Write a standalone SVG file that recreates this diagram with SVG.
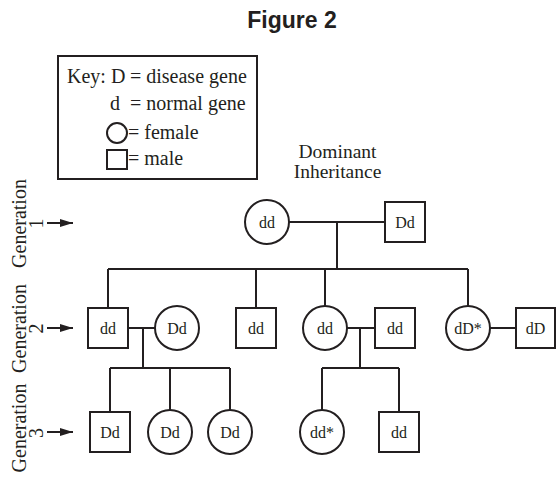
<svg xmlns="http://www.w3.org/2000/svg" width="557" height="477" viewBox="0 0 557 477">
<defs>
<style>
.ln{stroke:#231f20;stroke-width:2;fill:none}
.nd{stroke:#231f20;stroke-width:2;fill:#fff}
.t{font-family:"Liberation Serif","Times New Roman",serif;fill:#231f20}
.lb{font-size:16px;text-anchor:middle}
.key{font-size:20px}
.gen{font-size:20px;text-anchor:middle}
</style>
<marker id="ah" markerWidth="14" markerHeight="10" refX="13" refY="5" orient="auto" markerUnits="userSpaceOnUse">
<path d="M0,1 L13,5 L0,9 Z" fill="#231f20"/>
</marker>
</defs>
<rect width="557" height="477" fill="#fff"/>
<text x="292" y="28" font-family="'Liberation Sans',Arial,sans-serif" font-weight="bold" font-size="23" text-anchor="middle" fill="#231f20">Figure 2</text>

<g id="key">
<rect x="58" y="56" width="199" height="123" class="ln"/>
<text class="t key" x="67" y="83">Key: D</text>
<text class="t key" x="130" y="83">= disease gene</text>
<text class="t key" x="110" y="110">d</text>
<text class="t key" x="130" y="110">= normal gene</text>
<circle cx="117" cy="133" r="10" class="ln"/>
<text class="t key" x="128" y="139">= female</text>
<rect x="107" y="150" width="20" height="19" class="ln"/>
<text class="t key" x="128" y="165">= male</text>
</g>

<text class="t" x="337.5" y="158" font-size="19.5" text-anchor="middle">Dominant</text>
<text class="t" x="337.5" y="178" font-size="19.5" text-anchor="middle">Inheritance</text>

<g id="gen-labels">
<text class="t gen" transform="translate(26,223.5) rotate(-90)">Generation</text>
<text class="t gen" transform="translate(43,223.5) rotate(-90)">1</text>
<line x1="47" y1="223" x2="73" y2="223" class="ln" marker-end="url(#ah)"/>
<text class="t gen" transform="translate(26,328.5) rotate(-90)">Generation</text>
<text class="t gen" transform="translate(43,328.5) rotate(-90)">2</text>
<line x1="47" y1="328" x2="73" y2="328" class="ln" marker-end="url(#ah)"/>
<text class="t gen" transform="translate(26,428) rotate(-90)">Generation</text>
<text class="t gen" transform="translate(43,433) rotate(-90)">3</text>
<line x1="47" y1="432" x2="73" y2="432" class="ln" marker-end="url(#ah)"/>
</g>

<g id="connectors">
<path class="ln" d="M289,222 H385 M337,222 V269 M108,269 H468 M108,269 V308 M256,269 V308 M325,269 V306 M468,269 V306"/>
<path class="ln" d="M128,328 H155 M143,328 V368 M110,368 H230 M110,368 V412 M170,368 V410 M230,368 V410"/>
<path class="ln" d="M347,328 H375 M360,328 V368 M322,368 H399 M322,368 V410 M399,368 V412"/>
<path class="ln" d="M490,328 H516"/>
</g>

<g id="g1-female"><circle cx="267" cy="222" r="22" class="nd"/><text class="t lb" x="267" y="228">dd</text></g>
<g id="g1-male"><rect x="385" y="202" width="40" height="40" class="nd"/><text class="t lb" x="405" y="228">Dd</text></g>

<g id="g2-male1"><rect x="88" y="308" width="40" height="40" class="nd"/><text class="t lb" x="108" y="334">dd</text></g>
<g id="g2-female1"><circle cx="177" cy="328" r="22" class="nd"/><text class="t lb" x="177" y="334">Dd</text></g>
<g id="g2-male2"><rect x="236" y="308" width="40" height="40" class="nd"/><text class="t lb" x="256" y="334">dd</text></g>
<g id="g2-female2"><circle cx="325" cy="328" r="22" class="nd"/><text class="t lb" x="325" y="334">dd</text></g>
<g id="g2-male3"><rect x="375" y="308" width="40" height="40" class="nd"/><text class="t lb" x="395" y="334">dd</text></g>
<g id="g2-female3"><circle cx="468" cy="328" r="22" class="nd"/><text class="t lb" x="468" y="334">dD*</text></g>
<g id="g2-male4"><rect x="516" y="308" width="39" height="40" class="nd"/><text class="t lb" x="535.5" y="334">dD</text></g>

<g id="g3-male1"><rect x="90" y="412" width="40" height="40" class="nd"/><text class="t lb" x="110" y="438">Dd</text></g>
<g id="g3-female1"><circle cx="170" cy="432" r="22" class="nd"/><text class="t lb" x="170" y="438">Dd</text></g>
<g id="g3-female2"><circle cx="230" cy="432" r="22" class="nd"/><text class="t lb" x="230" y="438">Dd</text></g>
<g id="g3-female3"><circle cx="322" cy="432" r="22" class="nd"/><text class="t lb" x="322" y="438">dd*</text></g>
<g id="g3-male2"><rect x="379" y="412" width="40" height="40" class="nd"/><text class="t lb" x="399" y="438">dd</text></g>
</svg>
